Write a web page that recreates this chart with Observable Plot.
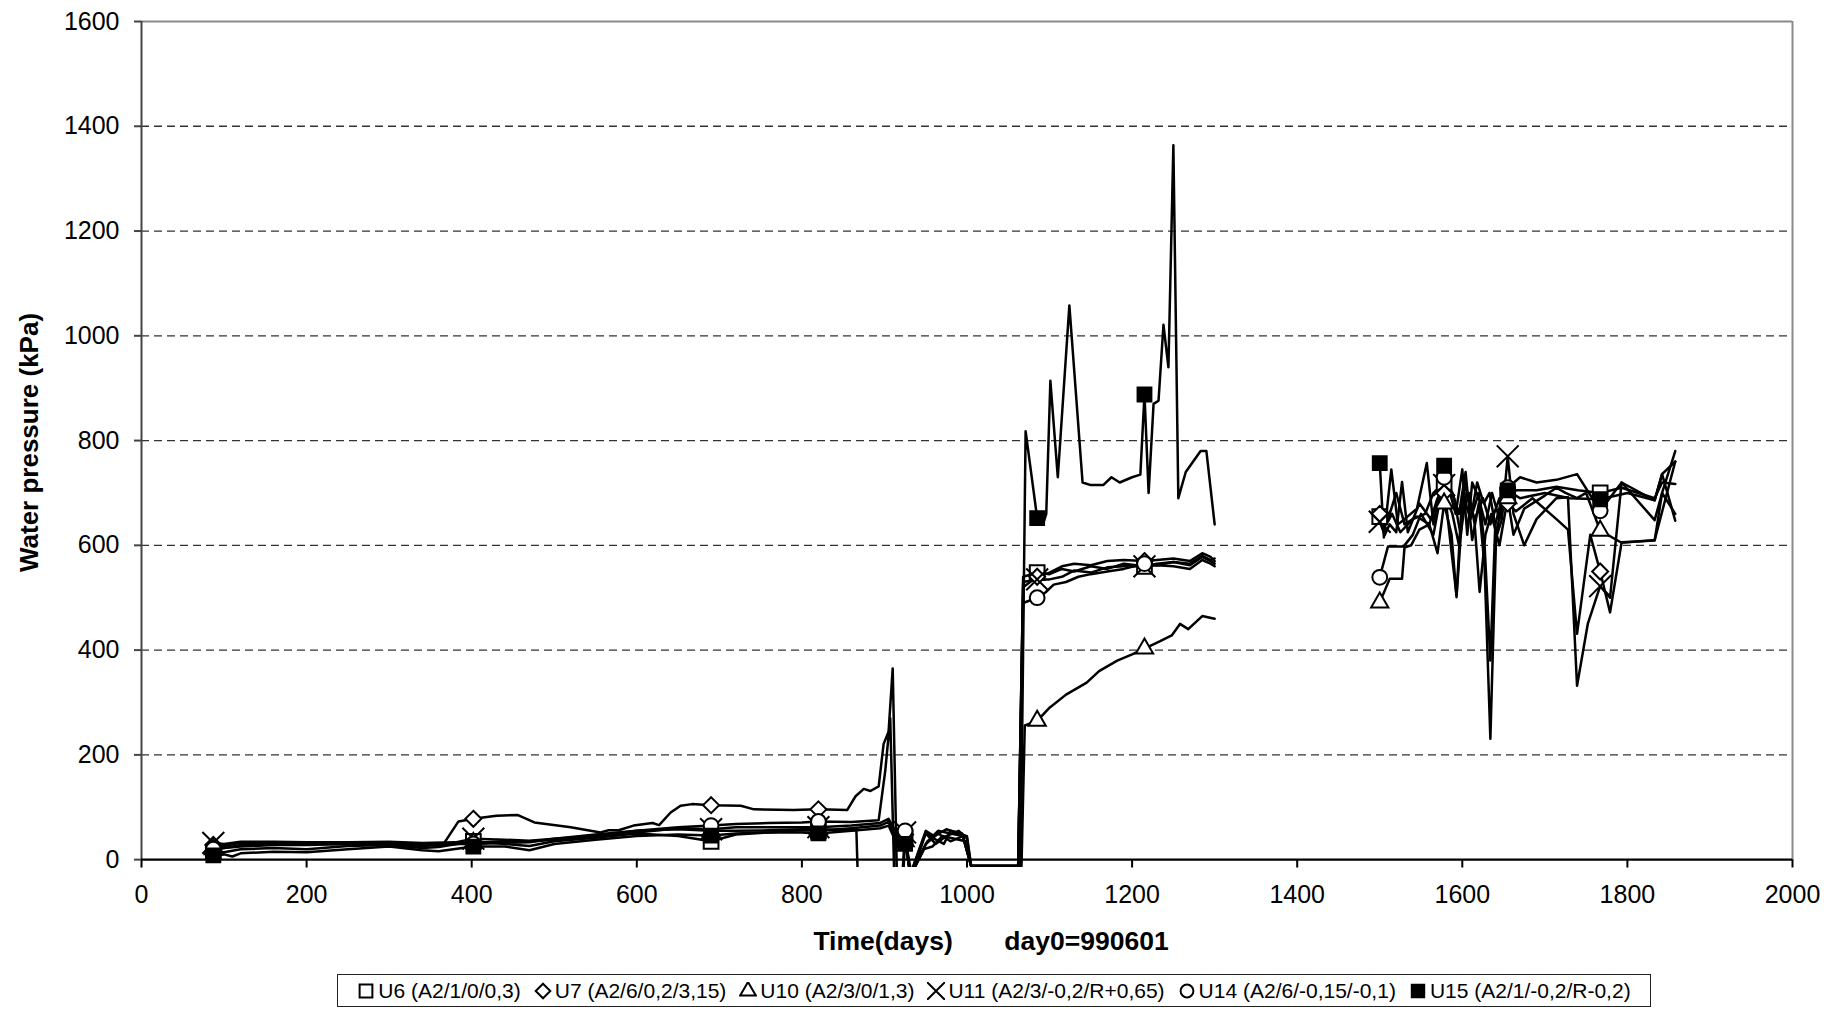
<!DOCTYPE html>
<html>
<head>
<meta charset="utf-8">
<script src="https://cdn.jsdelivr.net/npm/d3@7"></script>
<script src="https://cdn.jsdelivr.net/npm/@observablehq/plot@0.6"></script>
<style>
  html, body { margin: 0; padding: 0; background: #fff; overflow: hidden; }
  #chart { position: absolute; left: 0; top: 0; }
  #legend {
    position: absolute; left: 337px; top: 974px; width: 1314px; height: 33px;
    box-sizing: border-box; border: 1.5px solid #222; background: #fff;
    display: flex; align-items: center; justify-content: center; gap: 13px;
    font-family: "Liberation Sans", Arial, sans-serif; font-size: 21px; color: #000;
    white-space: nowrap;
  }
  #legend .item { display: flex; align-items: center; gap: 3px; }
  #legend svg { display: block; }
</style>
</head>
<body>
<div id="chart"></div>
<div id="legend"></div>
<script>
// ---------------- data ----------------
const xTicks = [0, 200, 400, 600, 800, 1000, 1200, 1400, 1600, 1800, 2000];
const yTicks = [0, 200, 400, 600, 800, 1000, 1200, 1400, 1600];
const gridTicks = [200, 400, 600, 800, 1000, 1200, 1400];
const markerDays = [87, 402, 690, 820, 925, 1085, 1215, 1500, 1578, 1655, 1767];

const seriesNames = ["U6", "U7", "U10", "U11", "U14", "U15"];
const legendLabels = [
  "U6 (A2/1/0/0,3)", "U7 (A2/6/0,2/3,15)", "U10 (A2/3/0/1,3)",
  "U11 (A2/3/-0,2/R+0,65)", "U14 (A2/6/-0,15/-0,1)", "U15 (A2/1/-0,2/R-0,2)"
];

// [day, water pressure kPa]; null = no data (gap)
const U6 = [
[87,15],[100,14],[120,20],[160,22],[200,20],[250,26],[300,28],[340,22],[360,24],[402,35],[440,30],[470,26],[500,35],[550,42],[600,50],[650,45],[690,35],[720,48],[760,52],[800,56],[820,55],[860,60],[895,65],[905,72],[915,40],[925,42],[933,-30],[950,50],[962,30],[975,45],[990,55],[1000,40],[1005,-12],[1062,-12],[1068,540],[1085,548],[1100,545],[1115,555],[1130,550],[1150,560],[1170,555],[1190,565],[1215,560],[1230,565],[1250,568],[1270,565],[1285,580],[1295,572],[1300,575],
[1400,null],
[1500,655],[1508,640],[1515,660],[1525,625],[1540,650],[1555,660],[1565,700],[1578,720],[1590,690],[1598,620],[1605,700],[1615,650],[1625,690],[1634,640],[1645,690],[1655,695],[1665,705],[1690,705],[1714,712],[1740,705],[1767,700],[1793,710],[1833,690],[1842,720],[1858,717]
];
const U7 = [
[87,28],[100,26],[120,32],[160,33],[200,32],[250,32],[300,33],[340,30],[366,30],[384,73],[402,78],[430,84],[456,85],[476,71],[520,62],[556,52],[566,56],[578,56],[596,65],[619,70],[627,66],[641,90],[653,103],[667,106],[690,104],[726,103],[742,96],[790,95],[820,96],[855,95],[865,121],[875,135],[883,131],[893,140],[899,221],[905,244],[910,365],[916,-100],[921,-100],[925,48],[931,-30],[950,52],[960,40],[972,30],[980,55],[994,50],[1005,-12],[1062,-12],[1068,520],[1085,540],[1100,548],[1115,560],[1130,565],[1150,562],[1170,570],[1190,572],[1215,570],[1230,572],[1250,575],[1270,570],[1285,585],[1295,578],[1300,570],
[1400,null],
[1500,660],[1510,650],[1520,700],[1530,640],[1545,655],[1560,640],[1570,690],[1578,700],[1588,660],[1596,600],[1603,720],[1612,660],[1620,700],[1627,600],[1634,380],[1640,640],[1648,690],[1655,680],[1665,665],[1685,690],[1714,650],[1728,630],[1739,431],[1755,620],[1767,550],[1779,472],[1793,606],[1833,609],[1842,700],[1858,660]
];
const U10 = [
[87,20],[100,22],[120,28],[160,30],[200,30],[250,30],[300,32],[340,30],[380,30],[402,32],[440,35],[470,35],[500,38],[550,45],[600,55],[650,58],[690,55],[720,55],[760,56],[800,58],[820,58],[866,56],[869,-100],[910,-100],[913,50],[925,35],[932,-30],[948,20],[958,25],[970,45],[985,40],[998,35],[1005,-12],[1066,-12],[1070,256],[1085,265],[1100,290],[1120,315],[1145,338],[1160,360],[1182,380],[1200,392],[1215,403],[1234,417],[1248,428],[1258,450],[1268,440],[1285,465],[1300,460],
[1400,null],
[1500,491],[1512,536],[1527,536],[1530,596],[1538,600],[1548,630],[1560,640],[1570,585],[1578,680],[1587,620],[1593,501],[1600,660],[1608,700],[1615,640],[1621,511],[1628,620],[1635,660],[1645,600],[1655,690],[1662,620],[1675,670],[1700,695],[1714,710],[1725,700],[1739,690],[1750,700],[1767,628],[1793,605],[1833,610],[1858,760]
];
const U11 = [
[87,32],[100,30],[120,34],[160,34],[200,33],[250,33],[300,34],[340,32],[380,33],[402,40],[440,38],[470,36],[500,40],[550,45],[600,52],[650,60],[690,58],[720,62],[760,62],[800,62],[820,62],[860,65],[895,70],[905,78],[915,50],[925,52],[931,-30],[950,55],[960,45],[975,58],[990,50],[1000,45],[1005,-12],[1062,-12],[1068,530],[1085,535],[1100,535],[1115,540],[1130,552],[1150,548],[1170,558],[1190,560],[1215,560],[1230,562],[1250,560],[1270,555],[1285,572],[1295,565],[1300,560],
[1400,null],
[1500,645],[1506,620],[1512,640],[1520,625],[1527,721],[1534,625],[1548,680],[1562,650],[1578,715],[1586,600],[1593,505],[1600,700],[1610,650],[1618,720],[1626,680],[1633,700],[1642,620],[1648,650],[1655,770],[1662,660],[1675,600],[1690,650],[1714,690],[1728,692],[1739,332],[1752,450],[1767,522],[1779,500],[1793,720],[1833,686],[1842,736],[1858,647]
];
const U14 = [
[87,20],[100,22],[120,25],[160,28],[200,28],[250,30],[300,30],[340,26],[380,30],[402,30],[440,32],[470,33],[500,40],[550,48],[600,55],[650,62],[690,65],[720,68],[760,70],[800,71],[820,73],[860,72],[893,75],[901,170],[907,270],[913,-100],[919,-100],[925,55],[931,-30],[952,35],[965,55],[980,50],[995,45],[1005,-12],[1062,-12],[1068,490],[1085,500],[1095,510],[1105,525],[1120,530],[1135,540],[1150,545],[1170,550],[1190,555],[1215,565],[1230,562],[1250,568],[1270,562],[1285,578],[1295,570],[1300,565],
[1400,null],
[1500,539],[1510,598],[1529,598],[1540,620],[1550,660],[1565,620],[1578,730],[1588,700],[1596,660],[1604,740],[1612,610],[1620,680],[1627,560],[1634,231],[1641,620],[1648,680],[1655,710],[1670,730],[1690,720],[1714,725],[1739,736],[1767,666],[1793,720],[1833,648],[1842,700],[1858,780]
];
const U15 = [
[87,8],[100,10],[110,6],[120,12],[160,15],[200,14],[250,20],[300,25],[340,18],[360,16],[402,25],[440,25],[470,18],[500,30],[550,38],[600,45],[650,48],[690,46],[720,50],[760,52],[800,52],[820,50],[860,55],[895,60],[905,65],[915,30],[925,30],[932,-30],[950,30],[965,50],[980,35],[995,45],[1005,-12],[1065,-12],[1071,818],[1085,652],[1092,640],[1096,660],[1101,914],[1110,730],[1124,1058],[1140,720],[1150,715],[1165,715],[1175,730],[1185,720],[1200,730],[1210,735],[1215,888],[1220,700],[1226,870],[1232,876],[1238,1021],[1244,940],[1250,1364],[1256,690],[1265,740],[1283,780],[1290,780],[1300,640],
[1400,null],
[1500,757],[1505,615],[1514,745],[1522,640],[1530,650],[1545,670],[1557,757],[1565,640],[1578,752],[1585,700],[1592,660],[1600,745],[1606,620],[1612,720],[1620,690],[1628,640],[1636,700],[1645,650],[1655,705],[1670,690],[1700,700],[1730,690],[1767,688],[1800,700],[1833,686],[1842,736],[1858,760]
];
const seriesData = [U6, U7, U10, U11, U14, U15];

const yTitle = "Water pressure (kPa)";
const xTitle = "Time(days)\u00a0\u00a0\u00a0\u00a0\u00a0\u00a0\u00a0day0=990601";

// ---------------- styling ----------------
const markerStyle = {
  U6:  {symbol: "square",   r: 8.3, fill: "white"},
  U7:  {symbol: "diamond2", r: 7.2, fill: "white"},
  U10: {symbol: "triangle", r: 6.4, fill: "white"},
  U11: {symbol: "times",    r: 10,  fill: "white"},
  U14: {symbol: "circle",   r: 7.4, fill: "white"},
  U15: {symbol: "square",   r: 7.8, fill: "black"}
};
const FONT = '"Liberation Sans", Arial, Helvetica, sans-serif';

// ---------------- build ----------------
const rows = seriesData.flatMap((arr, i) =>
  arr.map(([day, v]) => ({series: seriesNames[i], day, v: v == null ? NaN : v})));

const dotMarks = seriesNames.map(name => {
  const s = markerStyle[name];
  return Plot.dot(rows.filter(d => d.series === name && markerDays.includes(d.day) && !isNaN(d.v)), {
    x: "day", y: "v", symbol: s.symbol, r: s.r, fill: s.fill, stroke: "black", strokeWidth: 2
  });
});

const chart = Plot.plot({
  width: 1843,
  height: 962,
  marginLeft: 141,
  marginRight: 51,
  marginTop: 21,
  marginBottom: 95,
  x: {domain: [0, 2000]},
  y: {domain: [-15, 1600]},
  style: {fontFamily: FONT, fontSize: "25px", color: "black", background: "white", overflow: "visible"},
  marks: [
    Plot.gridY({ticks: gridTicks, stroke: "#333", strokeOpacity: 1, strokeDasharray: "8,5", strokeWidth: 1.3}),
    Plot.ruleY([1600], {stroke: "#8a8a8a", strokeWidth: 2}),
    Plot.ruleX([2000], {y1: 0, y2: 1600, stroke: "#8a8a8a", strokeWidth: 2}),
    Plot.line(rows, {x: "day", y: "v", z: "series", stroke: "black", strokeWidth: 2.5, clip: true}),
    ...dotMarks,
    Plot.ruleX([0], {y1: 0, y2: 1600, stroke: "#444", strokeWidth: 2}),
    Plot.ruleY([0], {stroke: "black", strokeWidth: 2.2}),
    Plot.ruleX(xTicks, {y1: -16, y2: 0, stroke: "black", strokeWidth: 2}),
    Plot.axisX({ticks: xTicks, tickSize: 0, tickPadding: 18, tickFormat: d => String(d), fontSize: 25, label: null}),
    Plot.axisY({ticks: yTicks, tickSize: 7, tickPadding: 15, tickFormat: d => String(d), fontSize: 25, label: null, stroke: "#444", strokeWidth: 2}),
    Plot.text([yTitle], {text: d => d, frameAnchor: "left", dx: -112, dy: -2, rotate: -90, textAnchor: "middle", lineAnchor: "middle", fontWeight: "bold", fontSize: 26}),
    Plot.text([xTitle], {text: d => d, frameAnchor: "bottom", dy: 74, dx: 24, textAnchor: "middle", lineAnchor: "middle", fontWeight: "bold", fontSize: 26.5})
  ]
});
document.getElementById("chart").appendChild(chart);

// ---------------- legend ----------------
const legend = d3.select("#legend");
seriesNames.forEach((name, i) => {
  const s = markerStyle[name];
  const item = legend.append("span").attr("class", "item");
  const svg = item.append("svg").attr("width", 18).attr("height", 18);
  const symMap = {square: d3.symbolSquare, diamond2: d3.symbolDiamond2, triangle: d3.symbolTriangle, times: d3.symbolTimes, circle: d3.symbolCircle};
  const legendR = {U6: 7.2, U7: 6.6, U10: 5.8, U11: 8.5, U14: 6.4, U15: 7.0}[name];
  svg.append("path")
    .attr("transform", "translate(9,9)")
    .attr("d", d3.symbol(symMap[s.symbol], Math.PI * legendR * legendR)())
    .attr("fill", s.fill === "black" ? "black" : "white")
    .attr("stroke", "black")
    .attr("stroke-width", 2);
  item.append("span").text(legendLabels[i]);
});
</script>
</body>
</html>
